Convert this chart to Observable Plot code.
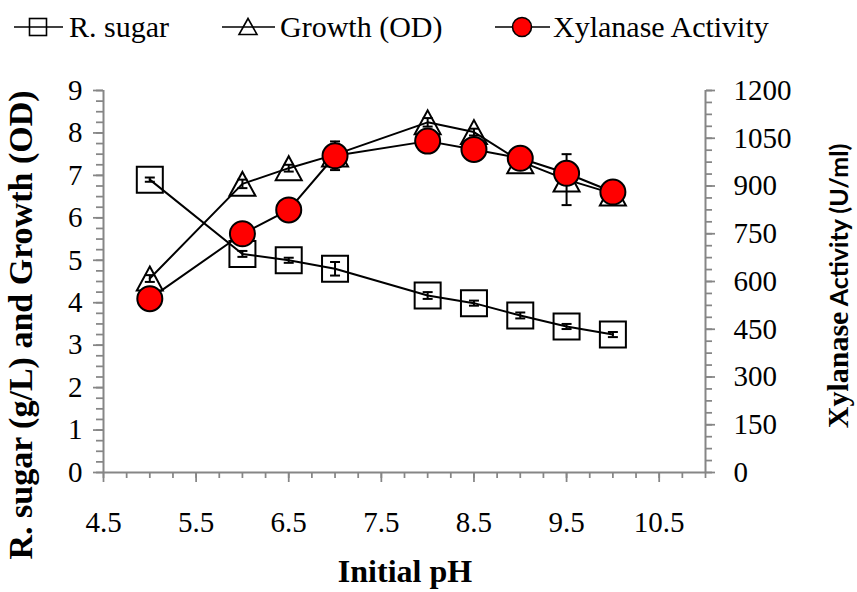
<!DOCTYPE html>
<html><head><meta charset="utf-8">
<script src="https://cdn.jsdelivr.net/npm/d3@7"></script>
<script src="https://cdn.jsdelivr.net/npm/@observablehq/plot@0.6"></script>
<style>
body{margin:0;background:#fff;}
#chart{width:857px;height:592px;position:relative;background:#fff;}
svg{display:block;}
</style></head><body><div id="chart"></div>
<script>
// ---- data ----
const pH = [5, 6, 6.5, 7, 8, 8.5, 9, 9.5, 10];
const sugar = [6.90, 5.15, 5.00, 4.80, 4.17, 3.99, 3.70, 3.44, 3.25];
const sugarErr = [0.05, 0.07, 0.06, 0.16, 0.08, 0.06, 0.07, 0.06, 0.06];
const growth = [4.57, 6.80, 7.17, 7.49, 8.25, 8.02, 7.33, 6.90, 6.57];
const growthErr = [0.08, 0.10, 0.08, 0.08, 0.10, 0.08, 0.08, 0.60, 0.05];
const xylanase = [546, 750, 825, 995, 1041, 1015, 987, 940, 881];
const xylanaseErr = [10, 12, 10, 45, 15, 12, 10, 12, 10];

const xTicks = [4.5, 5.5, 6.5, 7.5, 8.5, 9.5, 10.5];
const yLeftTicks = [0, 1, 2, 3, 4, 5, 6, 7, 8, 9];
const yRightTicks = [0, 150, 300, 450, 600, 750, 900, 1050, 1200];
const legendLabels = ["R. sugar", "Growth (OD)", "Xylanase Activity"];
const xTitle = "Initial pH";
const yLeftTitle = "R. sugar (g/L) and Growth (OD)";
const yRightTitle1 = "Xylanase";
const yRightTitle2 = " Activity (U/ml)";

// right axis (0–1200) mapped onto left scale (0–9)
const K = 9 / 1200;
const rows = pH.map((x, i) => ({
  x, s: sugar[i], se: sugarErr[i], g: growth[i], ge: growthErr[i],
  v: xylanase[i] * K, ve: xylanaseErr[i] * K
}));

const SERIF = "Liberation Serif, Tinos, Times New Roman, Times, DejaVu Serif, serif";
const AX = "#868686";

const triSym = {draw(ctx, size) { const a = Math.sqrt(size) / 2; ctx.moveTo(0, -a * 0.92); ctx.lineTo(a, a * 0.92); ctx.lineTo(-a, a * 0.92); ctx.closePath(); }};
const capSym = {draw(ctx, size) { const a = Math.sqrt(size) / 2; ctx.moveTo(-a, 0); ctx.lineTo(a, 0); }};

function errMarks(lo, hi) {
  return [
    Plot.ruleX(rows, {x: "x", y1: lo, y2: hi, stroke: "black", strokeWidth: 2}),
    Plot.dot(rows, {x: "x", y: lo, symbol: capSym, r: 5.64, stroke: "black", strokeWidth: 2}),
    Plot.dot(rows, {x: "x", y: hi, symbol: capSym, r: 5.64, stroke: "black", strokeWidth: 2})
  ];
}

const plot = Plot.plot({
  width: 857, height: 542,
  marginTop: 40, marginBottom: 120, marginLeft: 103, marginRight: 152,
  x: {domain: [4.5, 11], label: null},
  y: {domain: [0, 9], label: null},
  style: {fontFamily: SERIF, fontSize: "29px", color: "black", background: "white"},
  marks: [
    // minor ticks
    Plot.axisX({ticks: d3.range(4.5, 11.001, 0.25), tickSize: 6, tickFormat: () => "", stroke: AX, strokeWidth: 1.75, label: null}),
    Plot.axisY({ticks: d3.range(0, 9.001, 0.25), tickSize: 7, tickFormat: () => "", stroke: AX, strokeWidth: 1.75, label: null}),
    Plot.axisY({anchor: "right", ticks: d3.range(0, 1200.01, 37.5).map(v => v * K), tickSize: 6, tickFormat: () => "", stroke: AX, strokeWidth: 1.75, label: null}),
    // major ticks + labels
    Plot.axisX({ticks: xTicks, tickSize: 10, tickPadding: 29, tickFormat: d => d.toFixed(1), stroke: AX, fill: "black", strokeWidth: 1.75, label: null}),
    Plot.axisY({ticks: yLeftTicks, tickSize: 10, tickPadding: 11, tickFormat: d => String(d), stroke: AX, fill: "black", strokeWidth: 1.75, label: null}),
    Plot.axisY({anchor: "right", ticks: yRightTicks.map(v => v * K), tickSize: 9, tickPadding: 19, tickFormat: d => String(Math.round(d / K)), stroke: AX, fill: "black", strokeWidth: 1.75, label: null}),
    // axis lines
    Plot.ruleY([0], {stroke: AX, strokeWidth: 2}),
    Plot.ruleX([4.5], {stroke: AX, strokeWidth: 2}),
    Plot.ruleX([11], {stroke: AX, strokeWidth: 2}),
    // R. sugar
    Plot.line(rows, {x: "x", y: "s", stroke: "black", strokeWidth: 2}),
    ...errMarks(d => d.s - d.se, d => d.s + d.se),
    Plot.dot(rows, {x: "x", y: "s", symbol: "square", r: 14.67, fill: "none", stroke: "black", strokeWidth: 2}),
    // Growth
    Plot.line(rows, {x: "x", y: "g", stroke: "black", strokeWidth: 2}),
    ...errMarks(d => d.g - d.ge, d => d.g + d.ge),
    Plot.dot(rows, {x: "x", y: "g", symbol: triSym, r: 14.67, fill: "none", stroke: "black", strokeWidth: 2}),
    // Xylanase
    Plot.line(rows, {x: "x", y: "v", stroke: "black", strokeWidth: 2}),
    ...errMarks(d => d.v - d.ve, d => d.v + d.ve),
    Plot.dot(rows, {x: "x", y: "v", r: 12.5, fill: "#ff0000", stroke: "black", strokeWidth: 2})
  ]
});

// axis titles
const svg = d3.select(plot);
svg.append("text")
  .attr("transform", "translate(32,275) rotate(-90)")
  .attr("text-anchor", "middle").style("font-family", SERIF).attr("font-weight", "bold")
  .attr("font-size", 34).attr("fill", "black").text(yLeftTitle);
const rt = svg.append("text")
  .attr("transform", "translate(848,236) rotate(-90)")
  .attr("text-anchor", "middle").attr("font-weight", "bold").attr("fill", "black");
rt.append("tspan").style("font-family", SERIF).attr("font-size", 30).text(yRightTitle1);
rt.append("tspan").style("font-family", "Lato, 'Open Sans', sans-serif").attr("font-size", 25).text(yRightTitle2);
svg.append("text")
  .attr("x", 405).attr("y", 532).attr("text-anchor", "middle")
  .style("font-family", SERIF).attr("font-weight", "bold").attr("font-size", 32)
  .attr("fill", "black").text(xTitle);

// legend
const leg = d3.create("svg").attr("width", 857).attr("height", 50)
  .style("font-family", SERIF).style("font-size", "30px");
const items = [
  {x0: 14, x1: 63, cx: 38, tx: 69, kind: "square"},
  {x0: 222, x1: 275, cx: 248, tx: 280, kind: "tri"},
  {x0: 495, x1: 550, cx: 522, tx: 553, kind: "circle"}
];
const ly = 27;
items.forEach((it, i) => {
  leg.append("line").attr("x1", it.x0).attr("x2", it.x1).attr("y1", ly).attr("y2", ly)
    .attr("stroke", "black").attr("stroke-width", 1.6);
  if (it.kind === "square") {
    leg.append("rect").attr("x", it.cx - 8.5).attr("y", ly - 8.5).attr("width", 17).attr("height", 17)
      .attr("fill", "none").attr("stroke", "black").attr("stroke-width", 1.6);
  } else if (it.kind === "tri") {
    leg.append("path").attr("d", `M${it.cx},${ly - 8.5}L${it.cx + 9},${ly + 7.5}L${it.cx - 9},${ly + 7.5}Z`)
      .attr("fill", "none").attr("stroke", "black").attr("stroke-width", 1.6);
  } else {
    leg.append("circle").attr("cx", it.cx).attr("cy", ly).attr("r", 9.5)
      .attr("fill", "#ff0000").attr("stroke", "black").attr("stroke-width", 1.6);
  }
  leg.append("text").attr("x", it.tx).attr("y", 37).attr("fill", "black").text(legendLabels[i]);
});

const chart = document.getElementById("chart");
chart.appendChild(leg.node());
chart.appendChild(plot);
</script></body></html>
